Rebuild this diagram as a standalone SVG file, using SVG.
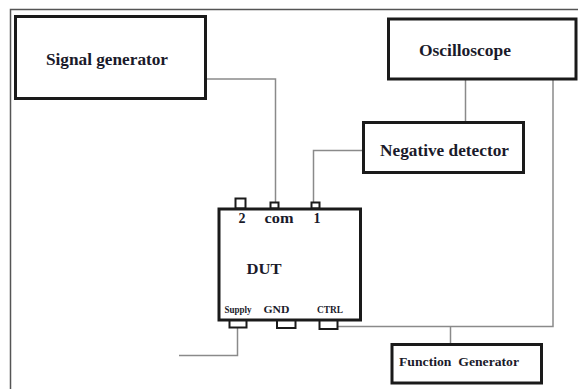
<svg xmlns="http://www.w3.org/2000/svg" width="578" height="389" viewBox="0 0 578 389">
<style>
.box{fill:#fff;stroke:#1a1a1a;stroke-width:3}
.pin{fill:#fff;stroke:#1a1a1a;stroke-width:2}
.wire{fill:none;stroke:#8a8a8a;stroke-width:1.5}
.frame{fill:none;stroke:#555;stroke-width:1.5}
.t{font-weight:bold;fill:#1a1a2a}
</style>
<rect width="578" height="389" fill="#fff"/>
<g id="frame">
<path class="frame" d="M578 9.5 H10.5 V389"/>
</g>
<g id="connectors">
<path class="wire" d="M206 79 H275.5 V202"/>
<path class="wire" d="M465.5 80 V122"/>
<path class="wire" d="M363 150.5 H313.5 V202"/>
<path class="wire" d="M553 80 V326.5 H338"/>
<path class="wire" d="M450.5 326.5 V344"/>
<path class="wire" d="M237.5 328 V355.5 H179"/>
</g>
<g font-family="'Liberation Serif', 'DejaVu Serif', serif">
<g id="signal-generator">
<rect class="box" x="15.5" y="16.5" width="190" height="82"/>
<text class="t" x="107" y="64.5" font-size="16" text-anchor="middle" textLength="122" lengthAdjust="spacingAndGlyphs">Signal generator</text>
</g>
<g id="oscilloscope">
<rect class="box" x="388.5" y="19" width="187.5" height="60"/>
<text class="t" x="465" y="56" font-size="16" text-anchor="middle" textLength="92" lengthAdjust="spacingAndGlyphs">Oscilloscope</text>
</g>
<g id="negative-detector">
<rect class="box" x="363.5" y="122.5" width="160" height="50"/>
<text class="t" x="444.5" y="156" font-size="16" text-anchor="middle" textLength="129" lengthAdjust="spacingAndGlyphs">Negative detector</text>
</g>
<g id="function-generator">
<rect class="box" x="392" y="344.5" width="149.5" height="38.5"/>
<text class="t" x="459" y="365.5" font-size="11.5" text-anchor="middle" textLength="120" lengthAdjust="spacingAndGlyphs" xml:space="preserve">Function  Generator</text>
</g>
<g id="dut">
<rect class="pin" x="235.5" y="198.5" width="10" height="10"/>
<rect class="pin" x="270.5" y="202.5" width="8" height="6"/>
<rect class="pin" x="311.5" y="202.5" width="8" height="6"/>
<rect class="pin" x="229.5" y="320" width="17" height="7.5"/>
<rect class="pin" x="277" y="320" width="18.5" height="8"/>
<rect class="pin" x="319.5" y="320" width="18" height="9"/>
<rect class="box" x="219" y="209" width="141.5" height="111"/>
<text class="t" x="242" y="223" font-size="14" text-anchor="middle">2</text>
<text class="t" x="279" y="223" font-size="14" text-anchor="middle" textLength="29" lengthAdjust="spacingAndGlyphs">com</text>
<text class="t" x="317" y="223" font-size="14" text-anchor="middle">1</text>
<text class="t" x="264" y="274.3" font-size="15.5" text-anchor="middle" textLength="35" lengthAdjust="spacingAndGlyphs">DUT</text>
<text class="t" x="238" y="313" font-size="9.5" text-anchor="middle" textLength="27" lengthAdjust="spacingAndGlyphs">Supply</text>
<text class="t" x="276.5" y="313" font-size="9.5" text-anchor="middle" textLength="26" lengthAdjust="spacingAndGlyphs">GND</text>
<text class="t" x="330" y="313" font-size="9.5" text-anchor="middle" textLength="26" lengthAdjust="spacingAndGlyphs">CTRL</text>
</g>
</g>
</svg>
